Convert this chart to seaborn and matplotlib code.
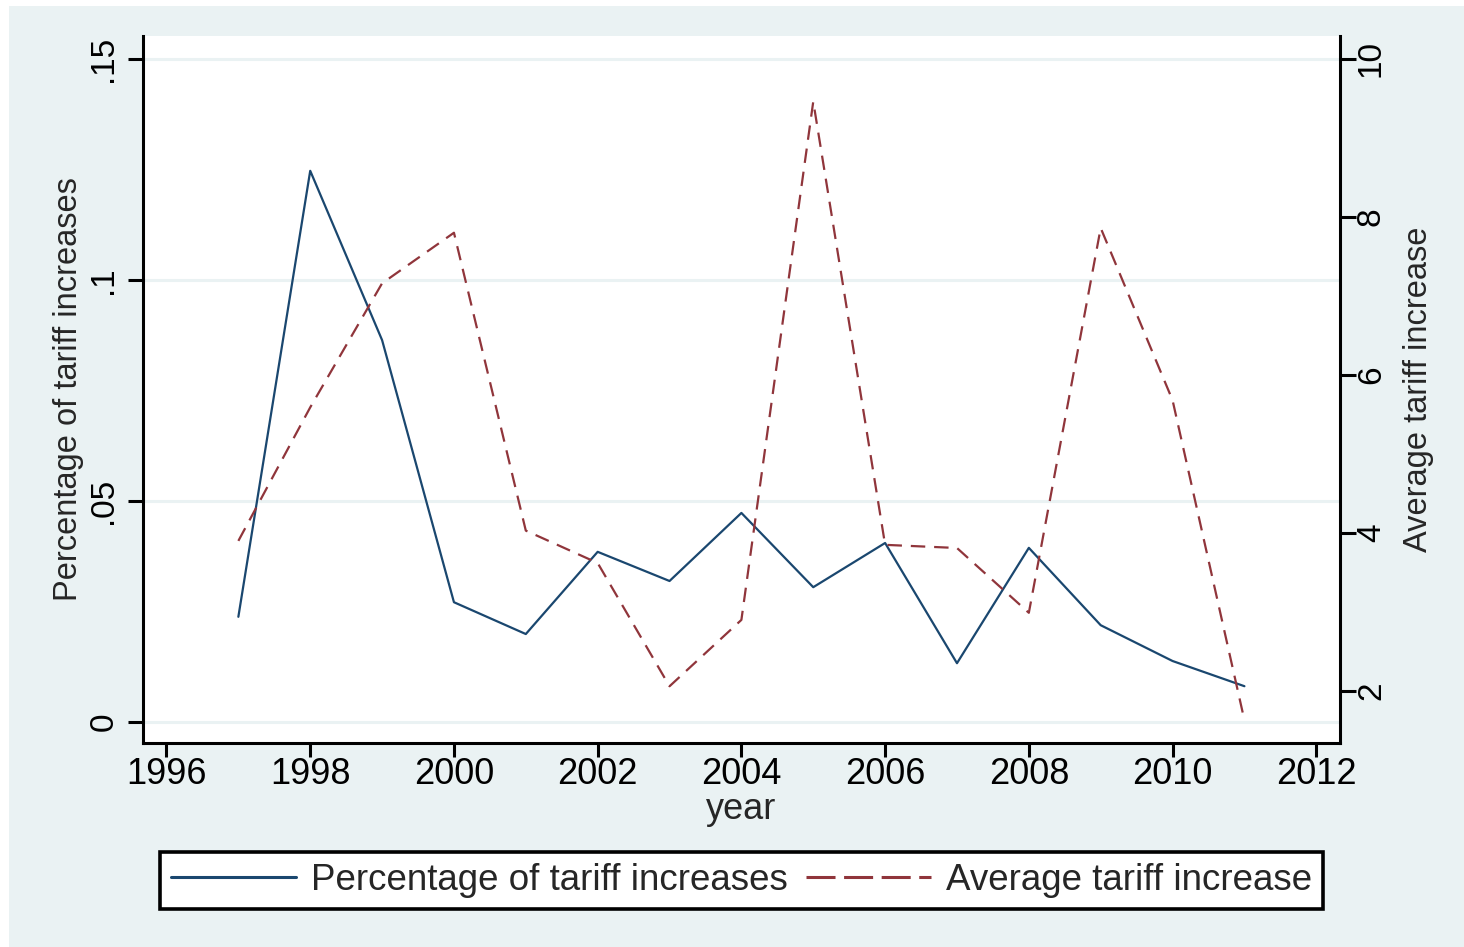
import matplotlib
matplotlib.use("Agg")
import matplotlib.pyplot as plt
from matplotlib.patches import Rectangle
from matplotlib.lines import Line2D
import numpy as np
import pandas as pd
import seaborn as sns

# ---- data ----
years = [1997, 1998, 1999, 2000, 2001, 2002, 2003, 2004, 2005, 2006, 2007, 2008, 2009, 2010, 2011]
pct_increases = [0.0238, 0.1247, 0.0864, 0.0271, 0.0199, 0.0385, 0.0319, 0.0473,
                 0.0305, 0.0405, 0.0133, 0.0394, 0.0219, 0.0138, 0.0081]
avg_increase = [3.90, 5.59, 7.16, 7.80, 4.03, 3.62, 2.06, 2.90,
                9.46, 3.85, 3.81, 2.99, 7.86, 5.68, 1.63]

x_ticks = [1996, 1998, 2000, 2002, 2004, 2006, 2008, 2010, 2012]
left_ticks = [0, 0.05, 0.10, 0.15]
left_tick_labels = ["0", ".05", ".1", ".15"]
right_ticks = [2, 4, 6, 8, 10]
right_tick_labels = ["2", "4", "6", "8", "10"]

label_pct = "Percentage of tariff increases"
label_avg = "Average tariff increase"
label_year = "year"

# ---- style ----
BG = "#EAF2F3"
NAVY = "#1A476F"
MAROON = "#90353B"

sns.set_theme(style="white")
plt.rcParams["font.family"] = ["Liberation Sans", "DejaVu Sans"]

W, H = 1464, 947
fig = plt.figure(figsize=(W / 100, H / 100), dpi=100)
fig.patch.set_facecolor("white")
fig.add_artist(Rectangle((9 / W, 0), 1 - 9 / W, 1 - 6 / H, transform=fig.transFigure,
                         facecolor=BG, edgecolor="none", zorder=-10))

left, right, top, bottom = 143, 1340, 36, 743
ax = fig.add_axes([left / W, 1 - bottom / H, (right - left) / W, (bottom - top) / H])
ax.set_facecolor("white")
ax2 = ax.twinx()

df = pd.DataFrame({"year": years, "pct": pct_increases, "avg": avg_increase})

sns.lineplot(data=df, x="year", y="pct", ax=ax, color=NAVY, linewidth=1.6)
sns.lineplot(data=df, x="year", y="avg", ax=ax2, color=MAROON, linewidth=1.6,
             linestyle=(0, (6.5, 4)))

ax.set_xlim(1995.673, 2012.33)
ax.set_ylim(-0.00475, 0.1552)
ax2.set_ylim(1.342, 10.29)

# gridlines at the left-axis ticks
ax.set_yticks(left_ticks)
ax.set_yticklabels(left_tick_labels, rotation=90, va="center", fontsize=24)
ax.yaxis.grid(True, color=BG, linewidth=2.2)
ax.xaxis.grid(False)
ax.set_axisbelow(True)

ax.set_xticks(x_ticks)
ax.set_xticklabels([str(t) for t in x_ticks], fontsize=26)

ax2.set_yticks(right_ticks)
ax2.set_yticklabels(right_tick_labels, rotation=90, va="center", fontsize=24)
ax2.grid(False)

for a in (ax, ax2):
    for s in a.spines.values():
        s.set_color("black")
        s.set_linewidth(2.2)
    a.spines["top"].set_visible(False)
ax.spines["right"].set_visible(False)
ax2.spines["left"].set_visible(False)
ax2.spines["bottom"].set_visible(False)

ax.tick_params(axis="x", which="major", length=10, width=2.2, color="black", pad=0,
               labelcolor="black", bottom=True)
ax.tick_params(axis="y", which="major", length=11, width=2.2, color="black", pad=6,
               labelcolor="black", left=True)
ax2.tick_params(axis="y", which="major", length=11.5, width=2.2, color="black", pad=0,
                labelcolor="black", right=True)

ax.set_xlabel(label_year, fontsize=26)
ax.xaxis.set_label_coords(0.5, -0.07)
ax.set_ylabel(label_pct, fontsize=23.5)
ax.yaxis.set_label_coords(-0.049, 0.5)
ax2.set_ylabel(label_avg, fontsize=23.5)
ax2.yaxis.set_label_coords(1.0526, 0.5)

# legend below the plot
handles = [Line2D([], [], color=NAVY, linewidth=2.2),
           Line2D([], [], color=MAROON, linewidth=2.2, linestyle=(0, (9.5, 2.8)))]
leg = fig.legend(handles, [label_pct, label_avg], loc="center",
                 bbox_to_anchor=(741.5 / W, 1 - 880.5 / H), ncol=2, fontsize=26.5,
                 frameon=True, fancybox=False, framealpha=1, edgecolor="black",
                 facecolor="white", handlelength=3.4, handletextpad=0.4,
                 columnspacing=0.5, borderpad=0.3, borderaxespad=0)
leg.get_frame().set_linewidth(2.6)

fig.savefig("out.png", dpi=100, facecolor=fig.get_facecolor())
